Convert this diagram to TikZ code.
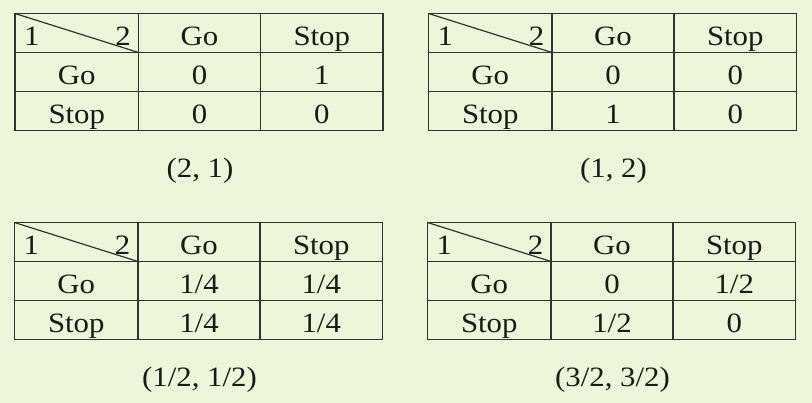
\documentclass[tikz,border=0pt]{standalone}
\usepackage{fontspec}
\setmainfont{Liberation Serif}
\usetikzlibrary{positioning}
\definecolor{slidegreen}{RGB}{235,247,216}
\definecolor{gridgray}{RGB}{50,50,50}
\tikzset{cell/.style={anchor=base, inner sep=0pt, xscale=1.1, text=black!90, font=\fontsize{28}{32}\selectfont}}

\begin{document}
\begin{tikzpicture}[x=1pt, y=-1pt, grid/.style={draw=gridgray, line width=1.2pt}]
\fill[slidegreen] (0,0) rectangle (812,403);

% PAYOFF TABLES
\foreach \n/\x/\y/\a/\b/\c/\d/\pay in {1/15/13.5/0/1/0/0/{(2, 1)}, 2/428.5/13.5/0/0/1/0/{(1, 2)}, 3/14.5/222.5/{1/4}/{1/4}/{1/4}/{1/4}/{(1/2, 1/2)}, 4/427.5/222.5/0/{1/2}/{1/2}/0/{(3/2, 3/2)}}{
	\begin{scope}[shift={(\x,\y)}]
		\draw[grid] (0,0) rectangle (368,117);
		\draw[grid] (0,39) -- (368,39) (0,78) -- (368,78);
		\draw[grid] (123.5,0) -- (123.5,117) (245.5,0) -- (245.5,117);
		\draw[grid] (0,0) -- (123.5,39);
		
		\node[cell, anchor=base west] (t\n-p1) at (9,32.5) {1};
		\node[cell, anchor=base east] (t\n-p2) at (116,32.5) {2};
		\node[cell] (t\n-go) at (184.5,32.5) {Go};
		\node[cell] (t\n-stop) at (306.75,32.5) {Stop};
		\node[cell] (t\n-rgo) at (61.75,71) {Go};
		\node[cell] (t\n-rstop) at (61.75,110) {Stop};
		\node[cell] (t\n-gg) at (184.5,71) {\a};
		\node[cell] (t\n-gs) at (306.75,71) {\b};
		\node[cell] (t\n-sg) at (184.5,110) {\c};
		\node[cell] (t\n-ss) at (306.75,110) {\d};
		
		\node[cell] (t\n-pay) at (185,164) {\pay};
	\end{scope}
}
\end{tikzpicture}
\end{document}
